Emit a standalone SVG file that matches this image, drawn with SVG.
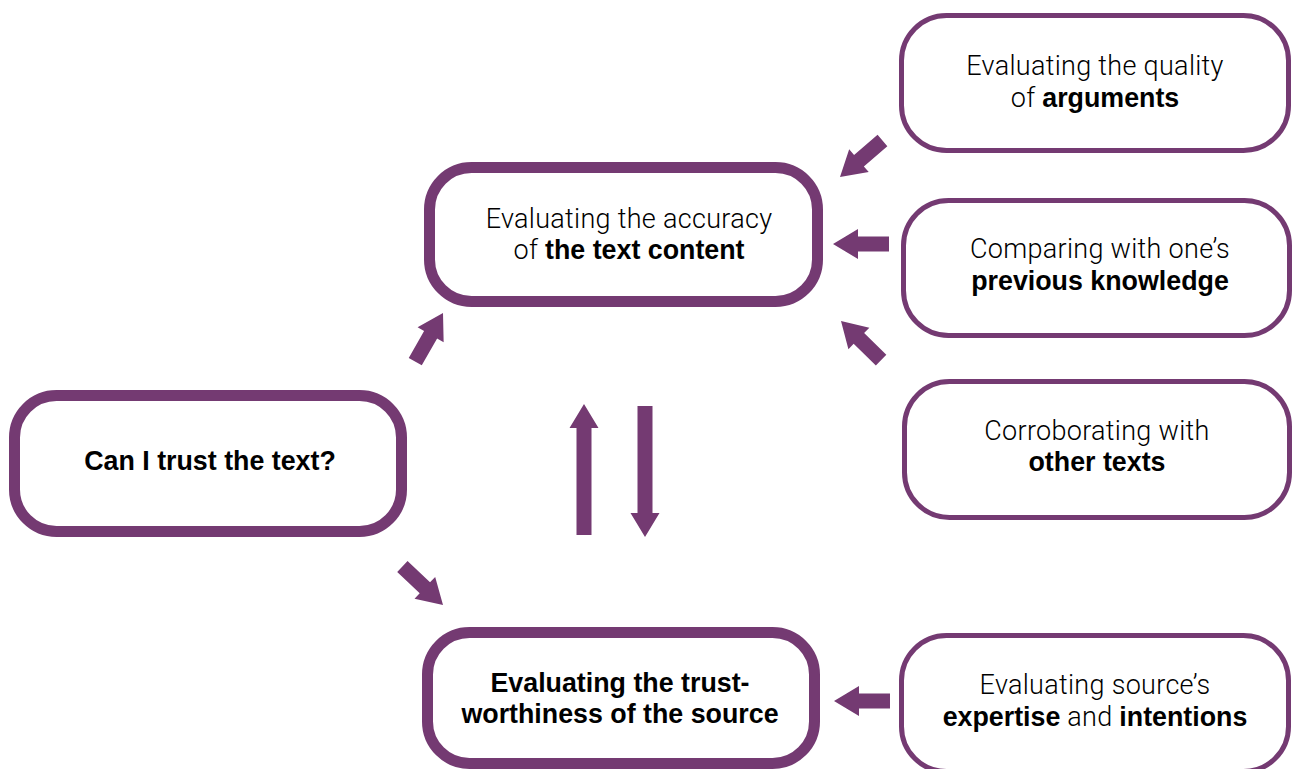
<svg xmlns="http://www.w3.org/2000/svg" width="1293" height="769" viewBox="0 0 1293 769">
  <style>
    .main { fill: #ffffff; stroke: #743a72; stroke-width: 11; }
    .side { fill: #ffffff; stroke: #743a72; stroke-width: 5; }
    .arrow { fill: #743a72; }
    text { font-size: 26.8px; fill: #000000; text-anchor: middle; }
    .lt { font-family: Roboto, "Liberation Sans", sans-serif; font-weight: 300; font-size: 27px; letter-spacing: 0.3px; }
    .bd { font-family: "Liberation Sans", Arial, sans-serif; font-weight: bold; }
  </style>
  <defs>
    <!-- block arrows, tip at the origin, pointing along +x -->
    <path id="arrowShort" d="M0,0 L-25,-15 L-25,-7.5 L-56,-7.5 L-56,7.5 L-25,7.5 L-25,15 Z"/>
    <path id="arrowLong" d="M0,0 L-24,-14.5 L-24,-7.5 L-131,-7.5 L-131,7.5 L-24,7.5 L-24,14.5 Z"/>
  </defs>

  <rect width="1293" height="769" fill="#ffffff"/>

  <g id="connectors" class="arrow">
    <use href="#arrowShort" transform="translate(840,177) rotate(139.3)"/>
    <use href="#arrowShort" transform="translate(833,244) rotate(180)"/>
    <use href="#arrowShort" transform="translate(841,321) rotate(224.3)"/>
    <use href="#arrowShort" transform="translate(443,313) rotate(-60.3)"/>
    <use href="#arrowShort" transform="translate(443,605) rotate(43.5)"/>
    <use href="#arrowShort" transform="translate(834,701) rotate(180)"/>
    <use href="#arrowLong" transform="translate(584,404) rotate(-90)"/>
    <use href="#arrowLong" transform="translate(645,537) rotate(90)"/>
  </g>

  <g id="node-question">
    <rect class="main" x="14.5" y="395.5" width="387" height="136" rx="42"/>
    <text class="bd" x="210" y="470">Can I trust the text?</text>
  </g>

  <g id="node-content">
    <rect class="main" x="429.5" y="167.5" width="388" height="134" rx="42"/>
    <text x="629" y="228"><tspan class="lt">Evaluating the accuracy</tspan></text>
    <text x="629" y="259"><tspan class="lt">of </tspan><tspan class="bd">the text content</tspan></text>
  </g>

  <g id="node-source">
    <rect class="main" x="427.5" y="632.5" width="387" height="131" rx="42"/>
    <text class="bd" x="620" y="692">Evaluating the trust-</text>
    <text class="bd" x="620" y="723">worthiness of the source</text>
  </g>

  <g id="node-arguments">
    <rect class="side" x="901.5" y="15.5" width="387" height="135" rx="45"/>
    <text x="1095" y="75"><tspan class="lt">Evaluating the quality</tspan></text>
    <text x="1095" y="107"><tspan class="lt">of </tspan><tspan class="bd">arguments</tspan></text>
  </g>

  <g id="node-knowledge">
    <rect class="side" x="903.5" y="200.5" width="386" height="135" rx="45"/>
    <text x="1100" y="258"><tspan class="lt">Comparing with one’s</tspan></text>
    <text x="1100" y="290"><tspan class="bd">previous knowledge</tspan></text>
  </g>

  <g id="node-corroborate">
    <rect class="side" x="904.5" y="381.5" width="385" height="136" rx="45"/>
    <text x="1097" y="440"><tspan class="lt">Corroborating with</tspan></text>
    <text x="1097" y="471"><tspan class="bd">other texts</tspan></text>
  </g>

  <g id="node-expertise">
    <rect class="side" x="901.5" y="635.5" width="387" height="136" rx="45"/>
    <text x="1095" y="694"><tspan class="lt">Evaluating source’s</tspan></text>
    <text x="1095" y="726"><tspan class="bd">expertise</tspan><tspan class="lt"> and </tspan><tspan class="bd">intentions</tspan></text>
  </g>
</svg>
